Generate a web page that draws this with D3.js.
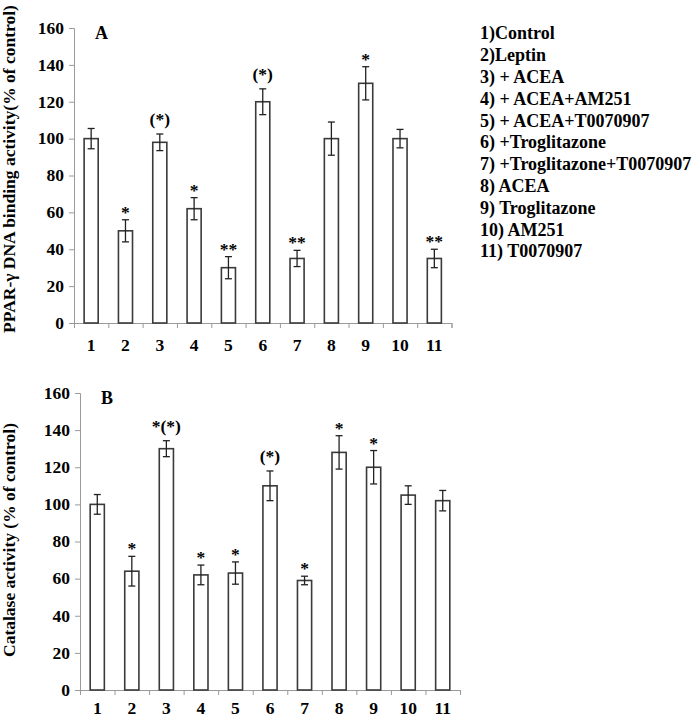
<!DOCTYPE html>
<html>
<head>
<meta charset="utf-8">
<script src="https://cdn.jsdelivr.net/npm/d3@7/dist/d3.min.js"></script>
<style>
  body { margin: 0; background: #fff; }
  svg text { font-family: "Liberation Serif", "Times New Roman", serif; font-weight: bold; fill: #000; }
</style>
</head>
<body>
<svg id="chart" width="693" height="717"></svg>
<script>
  // data
  var groups = ['1', '2', '3', '4', '5', '6', '7', '8', '9', '10', '11'];
  var legendLabels = ['1)Control', '2)Leptin', '3) + ACEA', '4) + ACEA+AM251', '5) + ACEA+T0070907',
    '6) +Troglitazone', '7) +Troglitazone+T0070907', '8) ACEA', '9) Troglitazone', '10) AM251', '11) T0070907'];
  var yTicks = [0, 20, 40, 60, 80, 100, 120, 140, 160];

  var pparMean = [100, 50, 98, 62, 30, 120, 35, 100, 130, 100, 35];
  var pparErr  = [5.5, 6, 4.5, 6, 6, 7, 4.4, 9, 9, 5, 5];
  var pparMark = ['', '*', '(*)', '*', '**', '(*)', '**', '', '*', '', '**'];

  var catMean = [100, 64, 130, 62, 63, 110, 59, 128, 120, 105, 102];
  var catErr  = [5.3, 8, 4.3, 5.3, 6, 8, 2.3, 9, 9, 5, 5.5];
  var catMark = ['', '*', '*(*)', '*', '*', '(*)', '*', '*', '*', '', ''];

  var svg = d3.select('#chart');

  function drawPanel(opt) {
    var g = svg.append('g');
    var x = d3.scaleBand().domain(groups).range([opt.x0, opt.x1]);
    var xb = d3.scaleLinear().domain([0, groups.length]).range([opt.x0, opt.x1]);
    var y = d3.scaleLinear().domain([0, 160]).range([opt.y0, opt.y1]);
    var bw = x.bandwidth() * 0.41;

    // y axis
    var ya = g.append('g').attr('transform', 'translate(' + opt.x0 + ',0)')
      .call(d3.axisLeft(y).tickValues(yTicks).tickSize(5).tickPadding(5));
    ya.select('.domain').attr('stroke', '#9a9a9a');
    ya.selectAll('.tick line').attr('stroke', '#9a9a9a');
    ya.selectAll('.tick text').style('font-size', '17.5px').attr('dy', '0.3em');

    // x axis: boundary ticks + labels under bands
    var xa = g.append('g').attr('transform', 'translate(0,' + opt.y0 + ')')
      .call(d3.axisBottom(xb).ticks(groups.length).tickSize(5).tickFormat(''));
    xa.select('.domain').attr('stroke', '#9a9a9a');
    xa.selectAll('.tick line').attr('stroke', '#9a9a9a');
    var xl = g.append('g').attr('transform', 'translate(0,' + opt.y0 + ')')
      .call(d3.axisBottom(x).tickSize(0).tickPadding(opt.labelPad));
    xl.select('.domain').remove();
    xl.selectAll('.tick text').style('font-size', '17.5px');

    // bars
    g.selectAll('rect.bar').data(opt.mean).enter().append('rect')
      .attr('class', 'bar')
      .attr('x', function (d, i) { return x(groups[i]) + (x.bandwidth() - bw) / 2; })
      .attr('y', function (d) { return y(d); })
      .attr('width', bw)
      .attr('height', function (d) { return y(0) - y(d); })
      .attr('fill', '#fff').attr('stroke', '#3a3a3a').attr('stroke-width', 1.6);

    // error bars
    var cap = 3.5;
    var eb = g.selectAll('g.err').data(opt.mean).enter().append('g').attr('class', 'err')
      .attr('stroke', '#222').attr('stroke-width', 1.3);
    eb.append('line')
      .attr('x1', function (d, i) { return x(groups[i]) + x.bandwidth() / 2; })
      .attr('x2', function (d, i) { return x(groups[i]) + x.bandwidth() / 2; })
      .attr('y1', function (d, i) { return y(d + opt.err[i]); })
      .attr('y2', function (d, i) { return y(d - opt.err[i]); });
    [1, -1].forEach(function (s) {
      eb.append('line')
        .attr('x1', function (d, i) { return x(groups[i]) + x.bandwidth() / 2 - cap; })
        .attr('x2', function (d, i) { return x(groups[i]) + x.bandwidth() / 2 + cap; })
        .attr('y1', function (d, i) { return y(d + s * opt.err[i]); })
        .attr('y2', function (d, i) { return y(d + s * opt.err[i]); });
    });

    // significance marks
    g.selectAll('text.mark').data(opt.mark).enter().append('text')
      .attr('class', 'mark')
      .attr('x', function (d, i) { return x(groups[i]) + x.bandwidth() / 2; })
      .attr('y', function (d, i) { return y(opt.mean[i] + opt.err[i]) - (d.indexOf('(') >= 0 ? 9 : 2); })
      .attr('text-anchor', 'middle')
      .style('font-size', '17.5px')
      .text(function (d) { return d; });

    // panel letter
    g.append('text').attr('x', opt.x0 + 21).attr('y', opt.y1 + 11)
      .style('font-size', '18px').text(opt.letter);

    // y title
    g.append('text')
      .attr('transform', 'translate(15,' + opt.titleY + ') rotate(-90)')
      .attr('text-anchor', 'middle')
      .style('font-size', '17.5px')
      .text(opt.title);
  }

  drawPanel({
    x0: 74, x1: 451.5, y0: 323, y1: 28, labelPad: 15.5, letter: 'A',
    mean: pparMean, err: pparErr, mark: pparMark,
    title: 'PPAR-\u03b3 DNA binding activity(% of control)', titleY: 169
  });

  drawPanel({
    x0: 80, x1: 460, y0: 690, y1: 393, labelPad: 11.5, letter: 'B',
    mean: catMean, err: catErr, mark: catMark,
    title: 'Catalase activity (% of control)', titleY: 540
  });

  // legend
  svg.append('g').selectAll('text').data(legendLabels).enter().append('text')
    .attr('x', 480)
    .attr('y', function (d, i) { return 39.3 + i * 21.8; })
    .style('font-size', '18px')
    .text(function (d) { return d; });
</script>
</body>
</html>
